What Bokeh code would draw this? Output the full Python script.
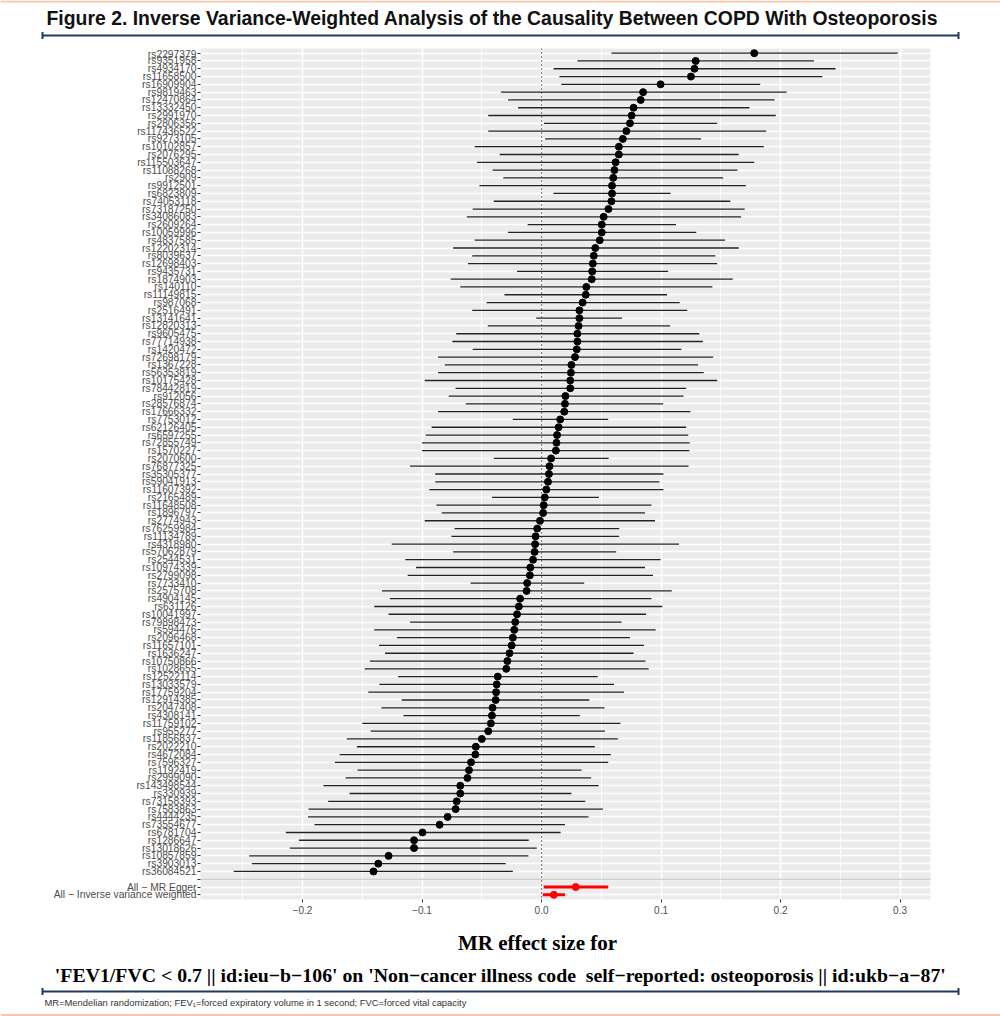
from bokeh.plotting import figure
from bokeh.models import Range1d, FixedTicker, Span, ColumnDataSource
from bokeh.layouts import column
from bokeh.embed import file_html
from bokeh.resources import INLINE
from bokeh.core.properties import value

# ---------------- data ----------------
snps = ["rs2297379", "rs9351958", "rs4934170", "rs11658500", "rs16909904", "rs9819463",
        "rs12470864", "rs13332450", "rs2991970", "rs2806356", "rs117436522", "rs9273105",
        "rs10102857", "rs2076295", "rs115503647", "rs11088268", "rs2909", "rs9912501",
        "rs6823809", "rs74053118", "rs73187250", "rs34086083", "rs2609264", "rs10059996",
        "rs4837585", "rs12202314", "rs8039637", "rs12698403", "rs9435731", "rs1874903",
        "rs140110", "rs11149815", "rs987068", "rs2516491", "rs13141641", "rs12820313",
        "rs9605475", "rs77714938", "rs1420472", "rs72698179", "rs1367228", "rs56353819",
        "rs10175428", "rs78442819", "rs912056", "rs28576874", "rs17666332", "rs7753012",
        "rs62126405", "rs6597255", "rs72855749", "rs1570227", "rs2070600", "rs76877325",
        "rs35305377", "rs59041913", "rs11607392", "rs2165489", "rs11648508", "rs1896797",
        "rs2774943", "rs76259984", "rs11134789", "rs4318980", "rs57062879", "rs2544531",
        "rs10974339", "rs2799098", "rs7733410", "rs2575708", "rs4904145", "rs631126",
        "rs10041997", "rs79898473", "rs594476", "rs2096468", "rs11657101", "rs1636247",
        "rs10750866", "rs1028655", "rs12522114", "rs13033579", "rs17759204", "rs12914385",
        "rs2047408", "rs4308141", "rs11759102", "rs955277", "rs11856837", "rs2022210",
        "rs4672084", "rs7596327", "rs1192419", "rs2999090", "rs143498544", "rs330939",
        "rs73158393", "rs7583863", "rs4444235", "rs73554677", "rs6781704", "rs1286647",
        "rs13018626", "rs10857859", "rs3903013", "rs36084521"]

beta = [0.178, 0.129, 0.128, 0.125, 0.0996, 0.085, 0.083, 0.077, 0.0754, 0.074, 0.071, 0.068,
        0.0647, 0.0647, 0.062, 0.061, 0.060, 0.059, 0.059, 0.0585, 0.056, 0.052, 0.0504, 0.0504,
        0.0487, 0.045, 0.0437, 0.0429, 0.0424, 0.042, 0.0375, 0.037, 0.0344, 0.0317, 0.0317, 0.031,
        0.030, 0.030, 0.0295, 0.028, 0.025, 0.0246, 0.024, 0.024, 0.020, 0.0196, 0.019, 0.0156,
        0.0143, 0.013, 0.0125, 0.012, 0.008, 0.0067, 0.0062, 0.0054, 0.004, 0.0027, 0.0018, 0.0013,
        -0.0013, -0.0036, -0.005, -0.0054, -0.0058, -0.0071, -0.0094, -0.0098, -0.012, -0.0125,
        -0.0179, -0.019, -0.0205, -0.022, -0.0228, -0.024, -0.025, -0.0268, -0.0286, -0.0295,
        -0.0366, -0.0375, -0.038, -0.0384, -0.041, -0.0415, -0.0424, -0.0446, -0.050, -0.055,
        -0.0554, -0.059, -0.0607, -0.062, -0.068, -0.068, -0.071, -0.0719, -0.0786, -0.0853,
        -0.0996, -0.1067, -0.1067, -0.128, -0.1366, -0.1406]

lower = [0.0585, 0.030, 0.010, 0.015, 0.0165, -0.034, -0.028, -0.0196, -0.0446, 0.002, -0.0446, 0.003,
         -0.056, -0.035, -0.054, -0.041, -0.032, -0.052, 0.010, -0.040, -0.0576, -0.0625, -0.0116, -0.028,
         -0.056, -0.074, -0.058, -0.0616, -0.0205, -0.076, -0.068, -0.031, -0.046, -0.058, -0.0045, -0.045,
         -0.0714, -0.0746, -0.0576, -0.0866, -0.081, -0.0866, -0.0978, -0.072, -0.0777, -0.0634, -0.0866, -0.024,
         -0.092, -0.097, -0.100, -0.100, -0.040, -0.110, -0.089, -0.089, -0.094, -0.0415, -0.088, -0.0835,
         -0.0978, -0.0728, -0.0754, -0.1254, -0.074, -0.114, -0.105, -0.112, -0.0594, -0.1335,
         -0.127, -0.140, -0.128, -0.110, -0.140, -0.121, -0.136, -0.131, -0.1437, -0.148,
         -0.120, -0.1357, -0.145, -0.117, -0.134, -0.1156, -0.150, -0.143, -0.163, -0.1545,
         -0.169, -0.173, -0.154, -0.164, -0.1826, -0.1607, -0.1786, -0.195, -0.1955, -0.190,
         -0.214, -0.203, -0.2107, -0.2446, -0.2424, -0.2576]

upper = [0.298, 0.228, 0.246, 0.235, 0.183, 0.205, 0.195, 0.174, 0.196, 0.147, 0.188, 0.1335,
         0.186, 0.165, 0.178, 0.164, 0.152, 0.171, 0.108, 0.158, 0.170, 0.167, 0.1125, 0.1295,
         0.1536, 0.165, 0.1455, 0.147, 0.106, 0.160, 0.143, 0.105, 0.1156, 0.122, 0.0674, 0.1076,
         0.132, 0.135, 0.117, 0.1437, 0.131, 0.1357, 0.147, 0.121, 0.1188, 0.1018, 0.1246, 0.0558,
         0.121, 0.1228, 0.124, 0.1237, 0.0562, 0.123, 0.102, 0.0987, 0.102, 0.048, 0.092, 0.0866,
         0.095, 0.065, 0.065, 0.115, 0.0625, 0.0996, 0.0866, 0.0933, 0.0357, 0.109,
         0.092, 0.101, 0.0875, 0.067, 0.0955, 0.074, 0.0857, 0.077, 0.087, 0.0897,
         0.047, 0.0607, 0.069, 0.040, 0.0527, 0.032, 0.066, 0.053, 0.0638, 0.0446,
         0.058, 0.0558, 0.0335, 0.0415, 0.0478, 0.025, 0.0366, 0.0513, 0.0393, 0.0196,
         0.016, -0.0107, -0.004, -0.011, -0.030, -0.024]

summary_labels = ["All \u2212 MR Egger", "All \u2212 Inverse variance weighted"]
summary_beta = [0.0286, 0.0103]
summary_lower = [0.0018, 0.0010]
summary_upper = [0.0558, 0.0196]

x_ticks = [-0.2, -0.1, 0.0, 0.1, 0.2, 0.3]
x_minor_ticks = [-0.25, -0.15, -0.05, 0.05, 0.15, 0.25]
x_tick_labels = ["\u22120.2", "\u22120.1", "0.0", "0.1", "0.2", "0.3"]

title_text = "Figure 2. Inverse Variance-Weighted Analysis of the Causality Between COPD With Osteoporosis"
xlab_line1 = "MR effect size for"
xlab_line2 = ("'FEV1/FVC < 0.7 || id:ieu\u2212b\u2212106' on 'Non\u2212cancer illness code\u00a0 "
              "self\u2212reported: osteoporosis || id:ukb\u2212a\u221287'")
footnote = "MR=Mendelian randomization; FEV\u2081=forced expiratory volume in 1 second; FVC=forced vital capacity"

# ---------------- layout constants ----------------
W = 1000
NAVY = "#1F3A60"
SALMON = "#F8C6AA"
SANS = "Liberation Sans"
SERIF = "Liberation Serif"

n = len(snps)
snp_rows = list(range(1, n + 1))
sep_row = n + 1
summary_rows = [n + 2, n + 3]
n_rows = n + 3


def no_align(f):
    try:
        f.frame_align = False
    except Exception:
        pass
    return f


def deco_fig(h, top):
    f = figure(width=W, height=h, x_range=Range1d(0, W), y_range=Range1d(top + h, top),
               output_backend="svg", toolbar_location=None,
               min_border_left=0, min_border_right=0, min_border_top=0, min_border_bottom=0,
               x_axis_location=None, y_axis_location=None, title=None)
    f.grid.visible = False
    f.outline_line_color = None
    f.background_fill_color = "white"
    f.border_fill_color = "white"
    return no_align(f)


# ---------------- header (page y 0..48) ----------------
head = deco_fig(48, 0)
head.segment(x0=[0], y0=[1], x1=[W], y1=[1], line_color=SALMON, line_width=2)
head.text(x=[46], y=[17.5], text=[title_text], text_font=value(SANS), text_font_style="bold",
          text_font_size="19.4px", text_align="left", text_baseline="middle", text_color="#111111")
head.segment(x0=[42], y0=[35], x1=[958], y1=[35], line_color=NAVY, line_width=2)
head.segment(x0=[42, 958], y0=[31.5, 31.5], x1=[42, 958], y1=[38.5, 38.5], line_color=NAVY, line_width=2)

# ---------------- main forest plot (page y 48..930) ----------------
p = figure(width=W, height=882, x_range=Range1d(-0.2854, 0.3255),
           y_range=Range1d(n_rows + 0.6, 0.4),
           output_backend="svg", toolbar_location=None, title=None,
           min_border_left=200, min_border_right=70, min_border_top=0, min_border_bottom=31)
no_align(p)
p.background_fill_color = "#EBEBEB"
p.border_fill_color = "white"
p.outline_line_color = None

xt = FixedTicker(ticks=x_ticks, minor_ticks=x_minor_ticks)
p.xaxis.ticker = xt
p.xgrid.ticker = xt
p.xaxis.major_label_overrides = {t: l for t, l in zip(x_ticks, x_tick_labels)}

y_labels = {r: s for r, s in zip(snp_rows, snps)}
y_labels[sep_row] = ""
for r, s in zip(summary_rows, summary_labels):
    y_labels[r] = s
yt = FixedTicker(ticks=list(range(1, n_rows + 1)), minor_ticks=[])
p.yaxis.ticker = yt
p.ygrid.ticker = yt
p.yaxis.major_label_overrides = y_labels

for ax in (p.xaxis[0], p.yaxis[0]):
    ax.axis_line_color = None
    ax.major_tick_line_color = "#333333"
    ax.major_tick_in = 0
    ax.major_tick_out = 3
    ax.minor_tick_line_color = None
    ax.major_label_text_font = SANS
    ax.major_label_text_color = "#4D4D4D"
p.yaxis.major_label_text_font_size = "10.3px"
p.xaxis.major_label_text_font_size = "10px"
p.yaxis.major_label_standoff = 1
p.xaxis.major_label_standoff = 2

p.xgrid.grid_line_color = "white"
p.xgrid.grid_line_width = 1.6
p.xgrid.minor_grid_line_color = "white"
p.xgrid.minor_grid_line_width = 0.8
p.ygrid.grid_line_color = "white"
p.ygrid.grid_line_width = 1.3

p.add_layout(Span(location=0, dimension="height", line_color="black", line_width=1.1,
                  line_dash="1 3", level="underlay"))

snp_src = ColumnDataSource(dict(b=beta, lo=lower, up=upper, y=snp_rows))
sum_src = ColumnDataSource(dict(b=summary_beta, lo=summary_lower, up=summary_upper, y=summary_rows))

p.segment(x0="lo", y0="y", x1="up", y1="y", source=snp_src, line_color="#222222", line_width=1.3)
p.scatter(x="b", y="y", source=snp_src, size=7, fill_color="black", line_color="black")
p.segment(x0="lo", y0="y", x1="up", y1="y", source=sum_src, line_color="red", line_width=3)
p.scatter(x="b", y="y", source=sum_src, size=7, fill_color="red", line_color="red")

p.add_layout(Span(location=sep_row, dimension="width", line_color="#BEBEBE", line_width=1))

# ---------------- footer (page y 930..1016) ----------------
foot = deco_fig(86, 930)
foot.text(x=[537], y=[942], text=[xlab_line1], text_font=value(SERIF), text_font_style="bold",
          text_font_size="21px", text_align="center", text_baseline="middle", text_color="black")
foot.text(x=[500], y=[974], text=[xlab_line2], text_font=value(SERIF), text_font_style="bold",
          text_font_size="19.8px", text_align="center", text_baseline="middle", text_color="black")
foot.segment(x0=[42], y0=[991], x1=[958], y1=[991], line_color=NAVY, line_width=2)
foot.segment(x0=[42, 958], y0=[987.5, 987.5], x1=[42, 958], y1=[994.5, 994.5], line_color=NAVY, line_width=2)
foot.text(x=[44], y=[1002], text=[footnote], text_font=value(SANS), text_font_size="9.4px",
          text_align="left", text_baseline="middle", text_color="#333333")
foot.segment(x0=[0], y0=[1014.5], x1=[W], y1=[1014.5], line_color=SALMON, line_width=2)

layout = column(head, p, foot, spacing=0)
open("out.html", "w").write(file_html(layout, INLINE))
